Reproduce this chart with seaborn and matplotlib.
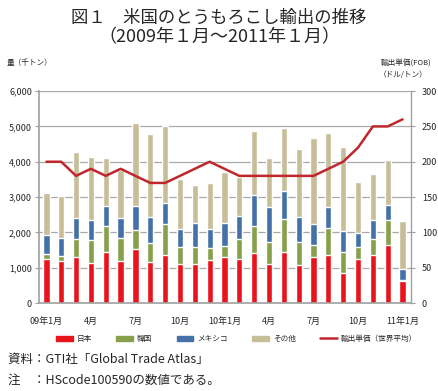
import numpy as np
import pandas as pd
import matplotlib
matplotlib.use("Agg")
import matplotlib.pyplot as plt
import seaborn as sns
from matplotlib.patches import Patch
from matplotlib.lines import Line2D

sns.set_style("white")
plt.rcParams['font.family'] = ['Noto Sans CJK JP', 'DejaVu Sans']

# 2009年1月 ～ 2011年1月（千トン）
months = [f"{y}-{m:02d}" for y in (2009, 2010) for m in range(1, 13)] + ["2011-01"]
japan = [1240, 1200, 1310, 1135, 1455, 1200, 1530, 1150, 1360, 1095, 1105, 1220,
         1295, 1240, 1425, 1095, 1455, 1075, 1310, 1350, 840, 1240, 1370, 1635, 630]
korea = [140, 130, 490, 650, 725, 635, 540, 540, 880, 485, 475, 340,
         330, 575, 755, 625, 915, 660, 325, 765, 615, 340, 435, 715, 15]
mexico = [545, 520, 605, 565, 570, 565, 680, 735, 605, 525, 680, 530,
          650, 650, 880, 1000, 800, 710, 605, 610, 595, 415, 545, 435, 320]
other = [1180, 1180, 1880, 1775, 1350, 1360, 2340, 2360, 2170, 1400, 1075, 1300,
         1445, 1110, 1815, 1395, 1795, 1920, 2445, 2080, 2380, 1445, 1295, 1265, 1350]
price = [200, 200, 180, 190, 180, 190, 180, 170, 170, 180, 190, 200,
         190, 180, 180, 180, 180, 180, 180, 190, 200, 220, 250, 250, 260]

tick_pos = [0, 3, 6, 9, 12, 15, 18, 21, 24]
tick_labels = ["09年1月", "4月", "7月", "10月", "10年1月", "4月", "7月", "10月", "11年1月"]

c_jp = "#E8141C"
c_kr = "#86A04C"
c_mx = "#4472A8"
c_ot = "#C7BE98"
c_line = "#C0272D"

df = pd.DataFrame({"month": months, "日本": japan, "韓国": korea,
                   "メキシコ": mexico, "その他": other, "price": price})
df["s1"] = df["日本"]
df["s2"] = df["s1"] + df["韓国"]
df["s3"] = df["s2"] + df["メキシコ"]
df["s4"] = df["s3"] + df["その他"]

fig = plt.figure(figsize=(4.38, 3.91), dpi=100)
ax = fig.add_axes([0.089, 0.225, 0.849, 0.542])

# stacked bars: draw cumulative totals back to front
for col, c in [("s4", c_ot), ("s3", c_mx), ("s2", c_kr), ("s1", c_jp)]:
    sns.barplot(data=df, x="month", y=col, color=c, width=0.42,
                saturation=1, ax=ax, zorder=2)

ax.set_ylim(0, 6000)
ax.set_xlim(-0.48, 24.56)
ax.set_yticks(range(0, 6001, 1000))
ax.set_yticklabels([f"{v:,}" for v in range(0, 6001, 1000)], fontsize=6.5)
ax.yaxis.grid(True, color="#A8A8A8", linewidth=0.9, zorder=0)
ax.set_axisbelow(True)
ax.set_xticks(tick_pos)
ax.set_xticklabels(tick_labels, fontsize=6.5)
ax.set_xticks(np.arange(-0.5, 25, 1), minor=True)
ax.tick_params(axis="x", which="major", length=0, pad=10)
ax.tick_params(axis="x", which="minor", length=3, color="#A0A0A0", width=0.8)
ax.tick_params(axis="y", length=3, color="#A0A0A0", width=0.8, pad=2)
ax.set_xlabel("")
ax.set_ylabel("")
for s in ["top", "right"]:
    ax.spines[s].set_visible(False)
ax.spines["left"].set_color("#A0A0A0")
ax.spines["left"].set_linewidth(1.2)
ax.spines["bottom"].set_color("#A0A0A0")
ax.spines["bottom"].set_linewidth(1.2)

ax2 = ax.twinx()
sns.lineplot(x=np.arange(len(price)), y=price, color=c_line, linewidth=1.8, ax=ax2)
ax2.set_ylim(0, 300)
ax2.set_yticks(range(0, 301, 50))
ax2.set_yticklabels([str(v) for v in range(0, 301, 50)], fontsize=6.5)
ax2.tick_params(axis="y", length=3, color="#A0A0A0", width=0.8, pad=5)
for s in ["top", "left", "bottom"]:
    ax2.spines[s].set_visible(False)
ax2.spines["right"].set_color("#A0A0A0")
ax2.spines["right"].set_linewidth(1.0)
ax2.set_ylabel("")

# titles and axis captions
fig.text(0.5, 0.955, "図１　米国のとうもろこし輸出の推移", ha="center", va="center", fontsize=12.5)
fig.text(0.5, 0.905, "（2009年１月～2011年１月）", ha="center", va="center", fontsize=13)
fig.text(0.016, 0.84, "量（千トン）", ha="left", va="center", fontsize=5.5)
fig.text(0.985, 0.84, "輸出単価(FOB)", ha="right", va="center", fontsize=5.5)
fig.text(0.975, 0.808, "（ドル/トン）", ha="right", va="center", fontsize=5.5)

handles = [Patch(color=c_jp), Patch(color=c_kr), Patch(color=c_mx), Patch(color=c_ot),
           Line2D([], [], color=c_line, linewidth=1.8)]
labels = ["日本", "韓国", "メキシコ", "その他", "輸出単価（世界平均）"]
fig.legend(handles, labels, loc="center", bbox_to_anchor=(0.54, 0.133), ncol=5,
           frameon=False, fontsize=5.5, handlelength=2.2, handleheight=0.6,
           columnspacing=3.2, handletextpad=0.5)

fig.text(0.018, 0.08, "資料：GTI社「Global Trade Atlas」", ha="left", va="center", fontsize=9)
fig.text(0.018, 0.028, "注　：HScode100590の数値である。", ha="left", va="center", fontsize=9)

fig.savefig("out.png", dpi=100)
